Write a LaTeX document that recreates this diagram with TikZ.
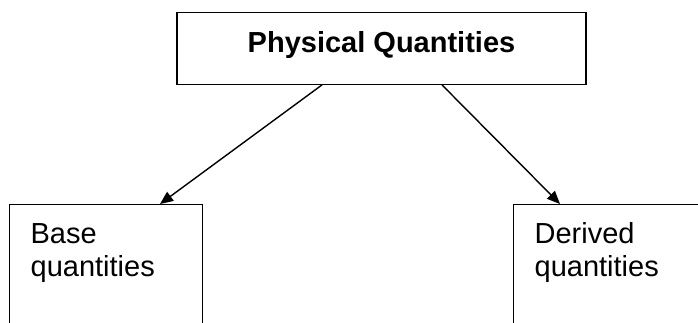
\documentclass[tikz,border=0pt]{standalone}
\usepackage{fontspec}
\setmainfont{Liberation Sans}
\usepackage{tikz}
\usetikzlibrary{arrows.meta,positioning}

\begin{document}
\begin{tikzpicture}[
  x=1pt, y=-1pt,
  box/.style={draw, line width=1.3pt, inner sep=0pt, font=\fontsize{29}{33}\selectfont},
  title/.style={box, font=\fontsize{29}{33}\selectfont\bfseries, minimum width=409pt, minimum height=71.5pt, text height=21pt, text depth=14pt},
  leaf/.style={box, anchor=north west, align=left, inner xsep=21pt, text height=39pt, text depth=200pt},
  arrow/.style={-{Triangle[length=13pt,width=11pt]}, line width=1.4pt}
]
\useasboundingbox (0,0) rectangle (698,322);
\clip (0,0) rectangle (698,322);

\node[title] (physical) at (381.5,48.5) {Physical Quantities};
\node[leaf, text width=151pt] (base) at (9,204) {Base\\quantities};
\node[leaf, text width=250pt] (derived) at (513,204) {Derived\\quantities};

\draw[arrow] ([xshift=-59.5pt]physical.south) -- ([xshift=151pt]base.north west);
\draw[arrow] ([xshift=60.5pt]physical.south) -- ([xshift=47pt]derived.north west);
\end{tikzpicture}
\end{document}
